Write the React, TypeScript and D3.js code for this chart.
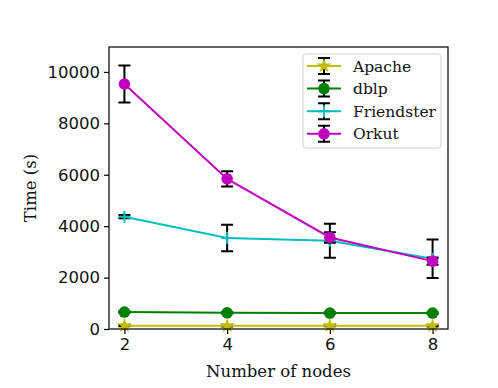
import React, { useEffect, useRef } from "react";
import * as d3 from "d3";

const NODES = [2, 4, 6, 8];
const SERIES = ["Apache", "dblp", "Friendster", "Orkut"];
const APACHE = [130, 125, 130, 125];
const APACHE_ERR = [25, 25, 25, 25];
const DBLP = [660, 630, 620, 620];
const DBLP_ERR = [40, 30, 30, 30];
const FRIENDSTER = [4370, 3540, 3430, 2730];
const FRIENDSTER_ERR = [60, 520, 660, 750];
const ORKUT = [9530, 5840, 3560, 2640];
const ORKUT_ERR = [720, 300, 200, 140];
const Y_TICKS = [0, 2000, 4000, 6000, 8000, 10000];
const X_TICKS = [2, 4, 6, 8];

const COLORS = ["#bfbf00", "#008000", "#00bfbf", "#bf00bf"];
const MARKERS = ["star", "circle", "plus", "circle"];

const App = () => {
    const ref = useRef<HTMLDivElement>(null);

    useEffect(() => {
        document.body.style.margin = "0";
        const W = 498;
        const H = 388;
        const margin = { top: 47, right: 50, bottom: 59, left: 109 };
        const width = W - margin.left - margin.right;
        const height = H - margin.top - margin.bottom;

        const svg = d3
            .select(ref.current)
            .html("")
            .append("svg")
            .attr("width", W)
            .attr("height", H)
            .style("display", "block")
            .style("background", "white");

        const chart = svg
            .append("g")
            .attr("transform", `translate(${margin.left},${margin.top})`);

        const x = d3.scaleLinear().domain([1.7, 8.3]).range([0, width]);
        const y = d3.scaleLinear().domain([0, 10970]).range([height, 0]);

        const tickFont = "DejaVu Sans, sans-serif";
        const labelFont = "DejaVu Serif, serif";

        const xAxis = chart
            .append("g")
            .attr("transform", `translate(0,${height})`)
            .call(d3.axisBottom(x).tickValues(X_TICKS).tickSize(5).tickPadding(4).tickFormat(d3.format("d")));
        const yAxis = chart
            .append("g")
            .call(d3.axisLeft(y).tickValues(Y_TICKS).tickSize(5).tickPadding(4).tickFormat(d3.format("d")));
        [xAxis, yAxis].forEach((a) => {
            a.select(".domain").remove();
            a.selectAll("line").attr("stroke", "black").attr("stroke-width", 1.2);
            a.selectAll("text")
                .attr("font-family", tickFont)
                .attr("font-size", "16.5px")
                .attr("fill", "#111");
        });

        const data = [
            { vals: APACHE, errs: APACHE_ERR },
            { vals: DBLP, errs: DBLP_ERR },
            { vals: FRIENDSTER, errs: FRIENDSTER_ERR },
            { vals: ORKUT, errs: ORKUT_ERR },
        ];

        const drawMarker = (g: any, kind: string, cx: number, cy: number, color: string) => {
            if (kind === "circle") {
                g.append("circle")
                    .attr("cx", cx)
                    .attr("cy", cy)
                    .attr("r", 5.8)
                    .attr("fill", color);
            } else if (kind === "star") {
                g.append("path")
                    .attr("transform", `translate(${cx},${cy})`)
                    .attr("d", d3.symbol(d3.symbolStar, 70)())
                    .attr("fill", color);
            } else {
                g.append("path")
                    .attr("transform", `translate(${cx},${cy})`)
                    .attr("d", "M-6,0H6M0,-6V6")
                    .attr("stroke", color)
                    .attr("stroke-width", 2);
            }
        };

        const capW = 6;
        const line = d3
            .line<number>()
            .x((_, i) => x(NODES[i]))
            .y((d) => y(d));

        data.forEach((s, si) => {
            const g = chart.append("g");
            s.vals.forEach((v, i) => {
                const cx = x(NODES[i]);
                const top = y(v + s.errs[i]);
                const bot = y(v - s.errs[i]);
                g.append("path")
                    .attr("d", `M${cx},${top}V${bot}M${cx - capW},${top}H${cx + capW}M${cx - capW},${bot}H${cx + capW}`)
                    .attr("stroke", "black")
                    .attr("stroke-width", 2)
                    .attr("fill", "none");
            });
            g.append("path")
                .datum(s.vals)
                .attr("d", line)
                .attr("fill", "none")
                .attr("stroke", COLORS[si])
                .attr("stroke-width", 2);
            s.vals.forEach((v, i) => drawMarker(g, MARKERS[si], x(NODES[i]), y(v), COLORS[si]));
        });

        chart
            .append("rect")
            .attr("width", width)
            .attr("height", height)
            .attr("fill", "none")
            .attr("stroke", "black")
            .attr("stroke-width", 1.2);

        svg.append("text")
            .attr("x", margin.left + width / 2)
            .attr("y", 377)
            .attr("text-anchor", "middle")
            .attr("font-family", labelFont)
            .attr("font-size", "16.5px")
            .attr("fill", "#111")
            .text("Number of nodes");

        svg.append("text")
            .attr("transform", `translate(36,${margin.top + height / 2}) rotate(-90)`)
            .attr("text-anchor", "middle")
            .attr("font-family", labelFont)
            .attr("font-size", "16.5px")
            .attr("fill", "#111")
            .text("Time (s)");

        const legend = svg.append("g").attr("transform", "translate(303,54)");
        legend.append("rect")
            .attr("width", 138)
            .attr("height", 94)
            .attr("rx", 3)
            .attr("fill", "white")
            .attr("fill-opacity", 0.8)
            .attr("stroke", "#d0d0d0");

        SERIES.forEach((name, i) => {
            const ly = 12 + i * 22.6;
            const lg = legend.append("g");
            lg.append("path")
                .attr("d", `M21,${ly - 8}V${ly + 8}M${21 - capW},${ly - 8}H${21 + capW}M${21 - capW},${ly + 8}H${21 + capW}`)
                .attr("stroke", "black")
                .attr("stroke-width", 2);
            lg.append("line")
                .attr("x1", 4)
                .attr("x2", 38)
                .attr("y1", ly)
                .attr("y2", ly)
                .attr("stroke", COLORS[i])
                .attr("stroke-width", 2);
            drawMarker(lg, MARKERS[i], 21, ly, COLORS[i]);
            lg.append("text")
                .attr("x", 50)
                .attr("y", ly + 5.5)
                .attr("font-family", labelFont)
                .attr("font-size", "15.5px")
                .attr("fill", "#111")
                .text(name);
        });
    }, []);

    return <div ref={ref} />;
};

export default App;
